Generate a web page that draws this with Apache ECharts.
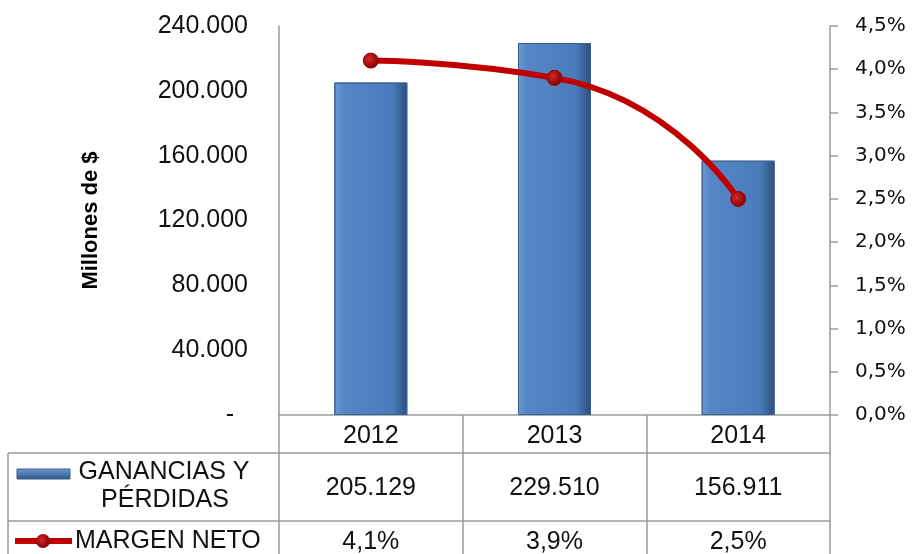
<!DOCTYPE html>
<html>
<head>
<meta charset="utf-8">
<script src="https://cdn.jsdelivr.net/npm/echarts@6/dist/echarts.min.js"></script>
<style>html,body{margin:0;padding:0;background:#fff}#c{width:912px;height:554px}</style>
</head>
<body>
<div id="c"></div>
<script>
const categories = ['2012', '2013', '2014'];
const profits = [205129, 229510, 156911];
const margins = [4.1, 3.9, 2.5];
const seriesNames = ['GANANCIAS Y\nPÉRDIDAS', 'MARGEN NETO'];
const leftAxisTitle = 'Millones de $';

function fmtThousands(v) {
  return String(Math.round(v)).replace(/\B(?=(\d{3})+(?!\d))/g, '.');
}
function fmtPct(v, d) {
  return v.toFixed(d).replace('.', ',') + '%';
}

const chart = echarts.init(document.getElementById('c'), null, {renderer: 'canvas'});
const GRID = {left: 279, right: 82, top: 26, bottom: 139};
const LINE = '#9a9a9a';

chart.setOption({
  animation: false,
  backgroundColor: '#fff',
  grid: GRID,
  xAxis: {
    type: 'category',
    data: categories,
    axisLine: {show: true, lineStyle: {color: LINE, width: 1.5}},
    axisTick: {show: true, length: 140, lineStyle: {color: LINE, width: 1.5}},
    axisLabel: {margin: 9, fontFamily: 'Liberation Sans', fontSize: 25, color: '#111'},
    splitLine: {show: false}
  },
  yAxis: [{
    type: 'value', min: 0, max: 240000, interval: 40000,
    name: leftAxisTitle, nameLocation: 'middle', nameGap: 177, nameRotate: 90,
    nameTextStyle: {fontFamily: 'Liberation Sans', fontWeight: 'bold', fontSize: 22, color: '#000'},
    axisLine: {show: true, lineStyle: {color: LINE, width: 1.5}},
    axisTick: {show: false},
    splitLine: {show: false},
    axisLabel: {
      margin: 31, fontFamily: 'Liberation Sans', fontSize: 25, color: '#111',
      formatter: v => v === 0 ? '-  ' : fmtThousands(v)
    }
  }, {
    type: 'value', min: 0, max: 4.5, interval: 0.5, position: 'right',
    axisLine: {show: true, lineStyle: {color: LINE, width: 1.5}},
    axisTick: {show: true, length: 8, lineStyle: {color: LINE, width: 1.5}},
    splitLine: {show: false},
    axisLabel: {
      margin: 25, fontFamily: 'DejaVu Sans', fontSize: 20, color: '#111',
      formatter: v => fmtPct(v, 1)
    }
  }],
  series: [{
    name: seriesNames[0],
    type: 'bar',
    data: profits,
    barWidth: 73,
    itemStyle: {
      color: new echarts.graphic.LinearGradient(0, 0, 1, 0, [
        {offset: 0, color: '#6d9bd6'},
        {offset: 0.12, color: '#5686c6'},
        {offset: 0.8, color: '#4a7bbb'},
        {offset: 1, color: '#2b4d7a'}
      ]),
      borderColor: '#3a5f8f', borderWidth: 1
    },
    z: 2
  }, {
    name: seriesNames[1],
    type: 'line',
    yAxisIndex: 1,
    data: margins,
    smooth: 0.6,
    symbol: 'circle',
    symbolSize: 15,
    lineStyle: {color: '#c00000', width: 6},
    itemStyle: {
      color: new echarts.graphic.RadialGradient(0.4, 0.4, 0.6, [
        {offset: 0, color: '#d82828'},
        {offset: 1, color: '#800000'}
      ]),
      borderColor: '#a00000', borderWidth: 1
    },
    z: 5
  }]
});

// Data table below the plot
const colX = categories.map((c, i) => chart.convertToPixel({xAxisIndex: 0}, i));
const plotRight = 912 - GRID.right;
const row1 = 453, row2 = 521, leftEdge = 8;
const txt = {fontFamily: 'Liberation Sans', fontSize: 25, fill: '#111'};
const els = [
  {type: 'line', shape: {x1: leftEdge, y1: row1, x2: plotRight, y2: row1}, style: {stroke: LINE, lineWidth: 1.5}},
  {type: 'line', shape: {x1: leftEdge, y1: row2, x2: plotRight, y2: row2}, style: {stroke: LINE, lineWidth: 1.5}},
  {type: 'line', shape: {x1: leftEdge, y1: row1, x2: leftEdge, y2: 560}, style: {stroke: LINE, lineWidth: 1.5}},
  // legend keys
  {type: 'rect', shape: {x: 17, y: 469, width: 53, height: 10},
   style: {fill: new echarts.graphic.LinearGradient(0, 0, 0, 1, [{offset: 0, color: '#6d9bd6'}, {offset: 1, color: '#2f5485'}]), stroke: '#3a5f8f', lineWidth: 1}},
  {type: 'line', shape: {x1: 15, y1: 541, x2: 72, y2: 541}, style: {stroke: '#c00000', lineWidth: 6}},
  {type: 'circle', shape: {cx: 43, cy: 541, r: 7},
   style: {fill: new echarts.graphic.RadialGradient(0.4, 0.4, 0.6, [{offset: 0, color: '#d82828'}, {offset: 1, color: '#800000'}])}},
  {type: 'text', style: Object.assign({text: 'GANANCIAS Y', x: 164, y: 472, align: 'center', verticalAlign: 'middle'}, txt)},
  {type: 'text', style: Object.assign({text: 'PÉRDIDAS', x: 165, y: 500, align: 'center', verticalAlign: 'middle'}, txt)},
  {type: 'text', style: Object.assign({text: seriesNames[1], x: 75, y: 541, align: 'left', verticalAlign: 'middle'}, txt)}
];
categories.forEach((c, i) => {
  els.push({type: 'text', style: Object.assign({text: fmtThousands(profits[i]), x: colX[i], y: 488, align: 'center', verticalAlign: 'middle'}, txt)});
  els.push({type: 'text', style: Object.assign({text: fmtPct(margins[i], 1), x: colX[i], y: 542, align: 'center', verticalAlign: 'middle'}, txt)});
});
chart.setOption({graphic: {elements: els}});
</script>
</body>
</html>
